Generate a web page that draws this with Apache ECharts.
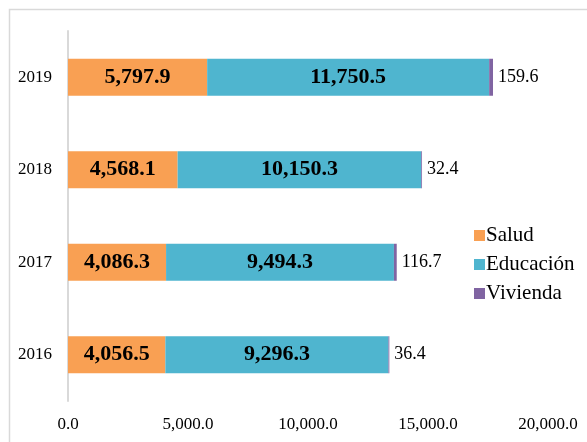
<!DOCTYPE html>
<html>
<head>
<meta charset="utf-8">
<script src="https://cdn.jsdelivr.net/npm/echarts@6/dist/echarts.min.js"></script>
<style>
  html, body { margin: 0; padding: 0; background: #fff; }
  #chart { width: 587px; height: 442px; }
</style>
</head>
<body>
<div id="chart"></div>
<script>
  // datos (millones de pesos)
  var years = ['2016', '2017', '2018', '2019']
  var salud = [4056.5, 4086.3, 4568.1, 5797.9]
  var educacion = [9296.3, 9494.3, 10150.3, 11750.5]
  var vivienda = [36.4, 116.7, 32.4, 159.6]
  var xTicks = [0, 5000, 10000, 15000, 20000]

  var serif = 'Liberation Serif'
  function fmt(v) {
    return v.toLocaleString('en-US', { minimumFractionDigits: 1, maximumFractionDigits: 1 })
  }

  var chart = echarts.init(document.getElementById('chart'))
  chart.setOption({
    animation: false,
    textStyle: { fontFamily: serif },
    graphic: [{
      type: 'rect',
      shape: { x: 9.5, y: 9.5, width: 600, height: 450 },
      style: { fill: 'none', stroke: '#d9d9d9', lineWidth: 1.5 },
      z: -1
    }],
    grid: { left: 68, right: 39, top: 31, bottom: 41 },
    legend: {
      orient: 'vertical',
      left: 469,
      top: 220,
      itemWidth: 11,
      itemHeight: 11,
      itemGap: 8,
      icon: 'rect',
      textStyle: { fontFamily: serif, fontSize: 21, color: '#000', padding: [0, 0, 0, -4] },
      data: ['Salud', 'Educación', 'Vivienda']
    },
    xAxis: {
      type: 'value',
      min: xTicks[0],
      max: xTicks[xTicks.length - 1],
      interval: 5000,
      axisLine: { show: false },
      axisTick: { show: false },
      splitLine: { show: false },
      axisLabel: {
        color: '#000',
        fontFamily: serif,
        fontSize: 17,
        margin: 15,
        formatter: function (v) { return fmt(v) }
      }
    },
    yAxis: {
      type: 'category',
      data: years,
      axisLine: { show: true, lineStyle: { color: '#d9d9d9', width: 2 } },
      axisTick: { show: false },
      axisLabel: { color: '#000', fontFamily: serif, fontSize: 17, margin: 16 }
    },
    series: [
      {
        name: 'Salud',
        type: 'bar',
        stack: 'total',
        barWidth: '40%',
        data: salud,
        itemStyle: { color: '#f9a053' },
        label: {
          show: true,
          position: 'inside',
          color: '#000',
          fontFamily: serif,
          fontWeight: 'bold',
          fontSize: 22,
          formatter: function (p) { return fmt(p.value) }
        }
      },
      {
        name: 'Educación',
        type: 'bar',
        stack: 'total',
        data: educacion,
        itemStyle: { color: '#4fb5cf' },
        label: {
          show: true,
          position: 'inside',
          color: '#000',
          fontFamily: serif,
          fontWeight: 'bold',
          fontSize: 22,
          formatter: function (p) { return fmt(p.value) }
        }
      },
      {
        name: 'Vivienda',
        type: 'bar',
        stack: 'total',
        data: vivienda,
        itemStyle: { color: '#8064a2' },
        label: {
          show: true,
          position: 'right',
          distance: 5,
          color: '#000',
          fontFamily: serif,
          fontSize: 18,
          formatter: function (p) { return fmt(p.value) }
        }
      }
    ]
  })
</script>
</body>
</html>
